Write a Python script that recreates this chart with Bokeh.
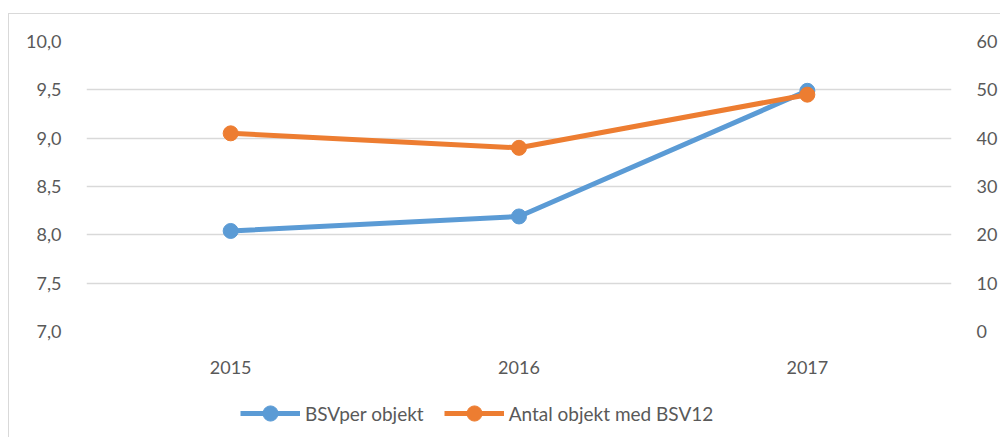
from bokeh.plotting import figure
from bokeh.layouts import column
from bokeh.models import (LinearAxis, Range1d, FixedTicker, CustomJSTickFormatter,
                          Legend, LegendItem, FactorRange)
from bokeh.embed import file_html
from bokeh.resources import INLINE

years = ["2015", "2016", "2017"]
bsv_per_objekt = [8.04, 8.19, 9.49]
antal_objekt = [41, 38, 49]
left_ticks = [7.0, 7.5, 8.0, 8.5, 9.0, 9.5, 10.0]
right_ticks = [0, 10, 20, 30, 40, 50, 60]
series_names = ["BSVper objekt", "Antal objekt med BSV12"]

BLUE = "#5B9BD5"
ORANGE = "#ED7D31"
TXT = "#595959"
GRID = "#D9D9D9"
FONT = "Lato"

BORDER_TOP = {"background": "linear-gradient(#D9D9D9,#D9D9D9) 8px 13px / 1px 100% no-repeat, "
                            "linear-gradient(#D9D9D9,#D9D9D9) 8px 13px / 100% 1px no-repeat, #FFFFFF"}
BORDER_LEFT = {"background": "linear-gradient(#D9D9D9,#D9D9D9) 8px 0px / 1px 100% no-repeat, #FFFFFF"}

p = figure(x_range=FactorRange(*years), y_range=Range1d(7.0, 10.0),
           width=1000, height=392, output_backend="svg", toolbar_location=None,
           min_border_left=86, min_border_right=47, min_border_top=41, min_border_bottom=61)
p.styles = BORDER_TOP
p.border_fill_color = None
p.outline_line_color = None
p.extra_y_ranges = {"right": Range1d(0, 60)}

fmt = CustomJSTickFormatter(code="return tick.toFixed(1).replace('.', ',');")

ya = p.yaxis[0]
ya.ticker = FixedTicker(ticks=left_ticks)
ya.formatter = fmt

ra = LinearAxis(y_range_name="right", ticker=FixedTicker(ticks=right_ticks))
p.add_layout(ra, "right")

for ax in [ya, ra]:
    ax.axis_line_color = None
    ax.major_tick_line_color = None
    ax.minor_tick_line_color = None
    ax.major_label_text_font = FONT
    ax.major_label_text_font_size = "18px"
    ax.major_label_text_color = TXT
    ax.major_label_standoff = 19

xa = p.xaxis[0]
xa.axis_line_color = None
xa.major_tick_line_color = None
xa.minor_tick_line_color = None
xa.major_label_text_font = FONT
xa.major_label_text_font_size = "18px"
xa.major_label_text_color = TXT
xa.major_label_standoff = 23

p.xgrid.grid_line_color = None
p.ygrid.ticker = FixedTicker(ticks=left_ticks)
p.ygrid.grid_line_color = GRID
p.ygrid.grid_line_width = 1.5

p.line(years, bsv_per_objekt, line_color=BLUE, line_width=5)
p.scatter(years, bsv_per_objekt, size=15, fill_color=BLUE, line_color=BLUE)
p.line(years, antal_objekt, line_color=ORANGE, line_width=5, y_range_name="right")
p.scatter(years, antal_objekt, size=15, fill_color=ORANGE, line_color=ORANGE,
          y_range_name="right")

# legend figure (legend swatches only; their dummy data lies outside the visible range)
q = figure(width=1000, height=45, output_backend="svg", toolbar_location=None,
           x_axis_type=None, y_axis_type=None, x_range=Range1d(0, 1), y_range=Range1d(0, 1),
           min_border=0)
q.styles = BORDER_LEFT
q.border_fill_color = None
q.background_fill_color = None
q.outline_line_color = None
q.grid.visible = False
hx, hy = [-3, -2], [-3, -2]
ql1 = q.line(hx, hy, line_color=BLUE, line_width=5)
qc1 = q.scatter(hx, hy, size=15, fill_color=BLUE, line_color=BLUE)
ql2 = q.line(hx, hy, line_color=ORANGE, line_width=5)
qc2 = q.scatter(hx, hy, size=15, fill_color=ORANGE, line_color=ORANGE)

legend = Legend(items=[LegendItem(label=series_names[0], renderers=[ql1, qc1]),
                       LegendItem(label=series_names[1], renderers=[ql2, qc2])],
                orientation="horizontal", location=(154, 5),
                glyph_width=60, glyph_height=38, label_standoff=5, spacing=20,
                label_text_font=FONT, label_text_font_size="19px", label_text_color=TXT,
                border_line_color=None, background_fill_alpha=0, margin=0, padding=0)
q.add_layout(legend, "center")

layout = column(p, q, spacing=0)
open("out.html", "w").write(file_html(layout, INLINE))
